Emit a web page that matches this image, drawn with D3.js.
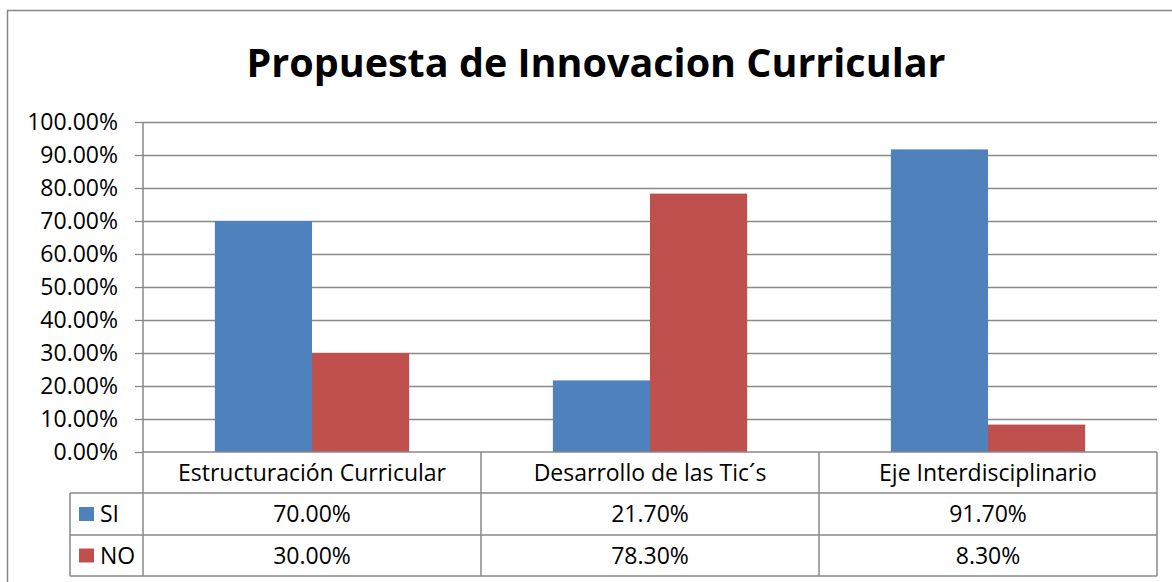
<!DOCTYPE html>
<html>
<head>
<meta charset="utf-8">
<title>Propuesta de Innovacion Curricular</title>
<script src="https://cdn.jsdelivr.net/npm/d3@7"></script>
<style>
body { margin: 0; background: #fff; }
text { font-family: "Open Sans", "Liberation Sans", sans-serif; fill: #000; }
</style>
</head>
<body>
<script>

var categories = ["Estructuración Curricular", "Desarrollo de las Tic´s", "Eje Interdisciplinario"];
var seriesNames = ["SI", "NO"];
var siValues = [0.70, 0.217, 0.917];
var noValues = [0.30, 0.783, 0.083];
var yTicks = [0, 0.1, 0.2, 0.3, 0.4, 0.5, 0.6, 0.7, 0.8, 0.9, 1.0];
var colors = ["#4f81bd", "#c0504d"];

var width = 1172, height = 582;
var gridColor = "#898989";

var svg = d3.select("body").append("svg")
    .attr("width", width)
    .attr("height", height);

// chart frame (runs off the right and bottom edges)
svg.append("rect")
    .attr("x", 7.5).attr("y", 10.5)
    .attr("width", 1200).attr("height", 600)
    .attr("fill", "none")
    .attr("stroke", "#868686")
    .attr("stroke-width", 1.5);

svg.append("text")
    .attr("x", 596).attr("y", 77)
    .attr("text-anchor", "middle")
    .style("font-size", "39.5px")
    .style("font-weight", "bold")
    .text("Propuesta de Innovacion Curricular");

var plotL = 143, plotR = 1157, plotT = 122, plotB = 452;

var y = d3.scaleLinear().domain([0, 1]).range([plotB, plotT]);
var x0 = d3.scaleBand().domain(categories).range([plotL, plotR]);
var x1 = d3.scaleBand().domain(seriesNames).range([0, x0.bandwidth()])
    .paddingInner(0).paddingOuter(0.74);

// gridlines
svg.append("g").selectAll("line")
    .data(yTicks.filter(function(d){ return d > 0; }))
    .enter().append("line")
    .attr("x1", plotL).attr("x2", plotR)
    .attr("y1", function(d){ return Math.round(y(d)) + 0.5; })
    .attr("y2", function(d){ return Math.round(y(d)) + 0.5; })
    .attr("stroke", gridColor)
    .attr("stroke-width", 1.3);

// y axis
var yAxis = d3.axisLeft(y).tickValues(yTicks).tickFormat(d3.format(".2%"))
    .tickSize(8).tickPadding(17);
var gy = svg.append("g").attr("transform", "translate(" + plotL + ",0)").call(yAxis);
gy.select(".domain").remove();
gy.selectAll(".tick line").attr("stroke", gridColor).attr("stroke-width", 1.3);
gy.selectAll(".tick text").style("font-size", "23px").style("font-family", "'Open Sans', sans-serif").attr("fill", "#000");

// bars
var rows = categories.map(function(c, i){
    return {cat: c, vals: [siValues[i], noValues[i]]};
});

var groups = svg.append("g").selectAll("g")
    .data(rows).enter().append("g")
    .attr("transform", function(d){ return "translate(" + x0(d.cat) + ",0)"; });

groups.selectAll("rect")
    .data(function(d){ return d.vals.map(function(v, k){ return {name: seriesNames[k], v: v, k: k}; }); })
    .enter().append("rect")
    .attr("x", function(d){ return x1(d.name); })
    .attr("width", x1.bandwidth())
    .attr("y", function(d){ return y(d.v); })
    .attr("height", function(d){ return plotB - y(d.v); })
    .attr("fill", function(d){ return colors[d.k]; });

// data table
var rowTop = [plotB, 493, 535, 576];
var tbl = svg.append("g").attr("stroke", gridColor).attr("stroke-width", 1.5);
tbl.append("line").attr("x1", plotL).attr("x2", plotR).attr("y1", rowTop[0]).attr("y2", rowTop[0]);
[1, 2, 3].forEach(function(r){
    tbl.append("line").attr("x1", 70).attr("x2", plotR).attr("y1", rowTop[r]).attr("y2", rowTop[r]);
});
tbl.append("line").attr("x1", 70).attr("x2", 70).attr("y1", rowTop[1]).attr("y2", rowTop[3]);
tbl.append("line").attr("x1", plotL).attr("x2", plotL).attr("y1", plotT).attr("y2", rowTop[3]);
categories.forEach(function(c){
    var xr = x0(c) + x0.bandwidth();
    tbl.append("line").attr("x1", xr).attr("x2", xr).attr("y1", rowTop[0]).attr("y2", rowTop[3]);
});

svg.append("g").selectAll("text")
    .data(categories).enter().append("text")
    .attr("x", function(d){ return x0(d) + x0.bandwidth() / 2; })
    .attr("y", (rowTop[0] + rowTop[1]) / 2 + 8)
    .attr("text-anchor", "middle")
    .style("font-size", "23px")
    .text(function(d){ return d; });

var fmt = d3.format(".2%");
[siValues, noValues].forEach(function(vals, s){
    var cy = (rowTop[s + 1] + rowTop[s + 2]) / 2;
    svg.append("rect")
        .attr("x", 79).attr("y", cy - 7)
        .attr("width", 15).attr("height", 14)
        .attr("fill", colors[s]);
    svg.append("text")
        .attr("x", 100).attr("y", cy + 8)
        .style("font-size", "23px")
        .text(seriesNames[s]);
    svg.append("g").selectAll("text")
        .data(vals).enter().append("text")
        .attr("x", function(d, i){ return x0(categories[i]) + x0.bandwidth() / 2; })
        .attr("y", cy + 8)
        .attr("text-anchor", "middle")
        .style("font-size", "23px")
        .text(function(d){ return fmt(d); });
});

</script>
</body>
</html>
